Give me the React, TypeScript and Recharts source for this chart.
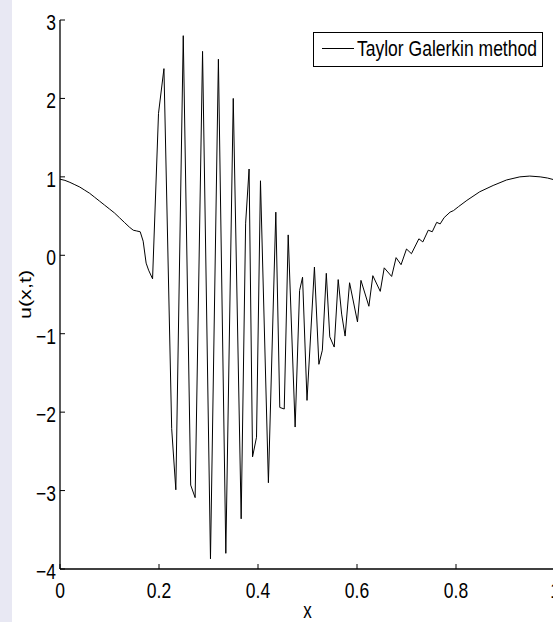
import React from 'react';
import { LineChart, Line, XAxis, YAxis, Legend } from 'recharts';

const FONT = '"Liberation Sans", Arial, Helvetica, sans-serif';

const seriesName = 'Taylor Galerkin method';

const xValues = [
  0, 0.01, 0.02, 0.03, 0.04, 0.05, 0.06, 0.07, 0.08, 0.09, 0.1, 0.11, 0.12, 0.13, 0.14, 0.148, 0.155, 0.162,
  0.168, 0.174, 0.179, 0.187, 0.199, 0.21, 0.2256, 0.234, 0.249, 0.264, 0.273, 0.288, 0.304, 0.32, 0.335,
  0.35, 0.366, 0.375, 0.382, 0.389, 0.397, 0.405, 0.421, 0.436, 0.444, 0.453, 0.461, 0.475, 0.484, 0.49,
  0.499, 0.514, 0.523, 0.53, 0.538, 0.545, 0.554, 0.562, 0.569, 0.576, 0.585, 0.601, 0.608, 0.624, 0.632,
  0.647, 0.655, 0.67, 0.679, 0.689, 0.7, 0.71, 0.725, 0.733, 0.744, 0.752, 0.761, 0.768, 0.776, 0.788,
  0.795, 0.805, 0.822, 0.848, 0.875, 0.902, 0.929, 0.949, 0.97, 0.985, 1.0,
];

const uValues = [
  0.97, 0.955, 0.93, 0.9, 0.87, 0.83, 0.79, 0.74, 0.69, 0.64, 0.59, 0.54, 0.48, 0.42, 0.36, 0.32, 0.31, 0.3,
  0.18, -0.1, -0.19, -0.3, 1.81, 2.38, -2.21, -2.99, 2.8, -2.93, -3.09, 2.6, -3.87, 2.5, -3.8,
  2.0, -3.36, 0.41, 1.1, -2.57, -2.32, 0.95, -2.9, 0.55, -1.94, -1.96, 0.26, -2.19, -0.45, -0.28,
  -1.85, -0.15, -1.39, -1.21, -0.23, -1.04, -1.17, -0.31, -0.75, -1.03, -0.35, -0.85, -0.32, -0.65, -0.26,
  -0.46, -0.16, -0.27, -0.03, -0.12, 0.08, 0.02, 0.21, 0.17, 0.32, 0.3, 0.42, 0.4, 0.48, 0.55,
  0.57, 0.62, 0.7, 0.81, 0.89, 0.96, 1.0, 1.01, 1.0, 0.985, 0.96,
];

const xTicks = [0, 0.2, 0.4, 0.6, 0.8, 1];
const yTicks = [-4, -3, -2, -1, 0, 1, 2, 3];

const data = xValues.map((x, i) => ({ x, u: uValues[i] }));

const fmt = (v: number) => (v < 0 ? '\u2212' + Math.abs(v) : String(v));

const TICK_LEN = 5;
const FS = 17.5;
const SY = 1.27;

const BottomTick = (props: any) => {
  const { x, y, payload } = props;
  return (
    <g>
      <line x1={x} y1={y} x2={x} y2={y - TICK_LEN} stroke="#000" strokeWidth={1} />
      <text
        transform={`translate(${x},${y + 29}) scale(1,${SY})`}
        textAnchor="middle"
        fontFamily={FONT}
        fontSize={FS}
        fill="#000"
      >
        {fmt(payload.value)}
      </text>
    </g>
  );
};

const TopTick = (props: any) => {
  const { x, y } = props;
  return <line x1={x} y1={y} x2={x} y2={y + TICK_LEN} stroke="#000" strokeWidth={1} />;
};

const LeftTick = (props: any) => {
  const { x, y, payload } = props;
  return (
    <g>
      <line x1={x} y1={y} x2={x + TICK_LEN} y2={y} stroke="#000" strokeWidth={1} />
      <text
        transform={`translate(${x - 4},${y + 10}) scale(1,${SY})`}
        textAnchor="end"
        fontFamily={FONT}
        fontSize={FS}
        fill="#000"
      >
        {fmt(payload.value)}
      </text>
    </g>
  );
};

const RightTick = (props: any) => {
  const { x, y } = props;
  return <line x1={x} y1={y} x2={x - TICK_LEN} y2={y} stroke="#000" strokeWidth={1} />;
};

const XLabel = (props: any) => {
  const vb = props.viewBox || { x: 60, y: 569, width: 495, height: 53 };
  return (
    <text
      transform={`translate(${vb.x + vb.width / 2},${vb.y + 49}) scale(1,${SY})`}
      textAnchor="middle"
      fontFamily={FONT}
      fontSize={17}
      fill="#000"
    >
      x
    </text>
  );
};

const YLabel = (props: any) => {
  const vb = props.viewBox || { x: 0, y: 20, width: 60, height: 549 };
  return (
    <text
      transform={`translate(31,${vb.y + vb.height / 2}) rotate(-90) scale(${SY},1)`}
      textAnchor="middle"
      fontFamily={FONT}
      fontSize={17}
      fill="#000"
    >
      u(x,t)
    </text>
  );
};

const LegendBox = (props: any) => {
  const name = props.payload && props.payload[0] ? props.payload[0].value : seriesName;
  return (
    <svg width={230} height={35} style={{ display: 'block' }}>
      <rect x={0.5} y={0.5} width={229} height={34} fill="#fff" stroke="#000" strokeWidth={1} />
      <line x1={9} y1={16.5} x2={41} y2={16.5} stroke="#000" strokeWidth={1} />
      <text
        transform={`translate(44,24) scale(1,${SY})`}
        fontFamily={FONT}
        fontSize={FS}
        fill="#000"
      >
        {name}
      </text>
    </svg>
  );
};

export default function App() {
  return (
    <div
      style={{
        position: 'absolute',
        left: 0,
        top: 0,
        width: 553,
        height: 622,
        overflow: 'hidden',
        background: '#fff',
      }}
    >
      <div
        style={{ position: 'absolute', left: 0, top: 0, width: 12, height: 622, background: '#e8e8f3' }}
      />
      <div style={{ position: 'absolute', left: 0, top: 0 }}>
        <LineChart
          width={560}
          height={622}
          data={data}
          margin={{ top: 20, right: 5, bottom: 0, left: 0 }}
        >
          <XAxis
            xAxisId="bottom"
            dataKey="x"
            type="number"
            domain={[0, 1]}
            ticks={xTicks}
            interval={0}
            height={53}
            tickSize={0}
            tickMargin={0}
            tick={BottomTick}
            axisLine={{ stroke: '#000', strokeWidth: 1.3 }}
            tickLine={false}
            allowDataOverflow
            label={XLabel}
          />
          <XAxis
            xAxisId="top"
            orientation="top"
            type="number"
            domain={[0, 1]}
            ticks={xTicks}
            interval={0}
            height={0}
            tickSize={0}
            tickMargin={0}
            tick={TopTick}
            axisLine={{ stroke: '#000', strokeWidth: 1.3 }}
            tickLine={false}
            allowDataOverflow
          />
          <YAxis
            yAxisId="left"
            type="number"
            domain={[-4, 3]}
            ticks={yTicks}
            interval={0}
            width={60}
            tickSize={0}
            tickMargin={0}
            tick={LeftTick}
            axisLine={{ stroke: '#000', strokeWidth: 1.3 }}
            tickLine={false}
            allowDataOverflow
            label={YLabel}
          />
          <YAxis
            yAxisId="right"
            orientation="right"
            type="number"
            domain={[-4, 3]}
            ticks={yTicks}
            interval={0}
            width={0}
            tickSize={0}
            tickMargin={0}
            tick={RightTick}
            axisLine={{ stroke: '#000', strokeWidth: 1.3 }}
            tickLine={false}
            allowDataOverflow
          />
          <Legend
            layout="horizontal"
            verticalAlign="middle"
            align="center"
            content={LegendBox}
            wrapperStyle={{ position: 'absolute', left: 313, top: 32, width: 230, height: 35 }}
          />
          <Line
            xAxisId="bottom"
            yAxisId="left"
            type="linear"
            dataKey="u"
            name={seriesName}
            stroke="#000"
            strokeWidth={1}
            dot={false}
            activeDot={false}
            isAnimationActive={false}
          />
        </LineChart>
      </div>
    </div>
  );
}
